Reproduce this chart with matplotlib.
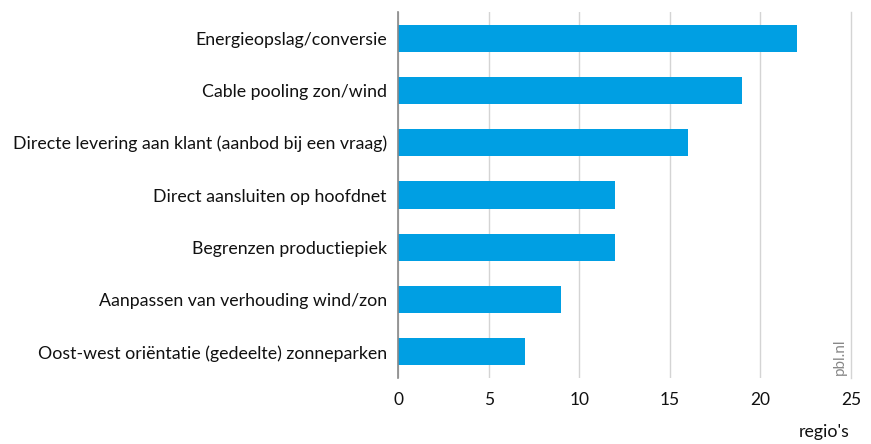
import matplotlib
matplotlib.use("Agg")
import matplotlib.pyplot as plt

categories = ["Energieopslag/conversie", "Cable pooling zon/wind",
              "Directe levering aan klant (aanbod bij een vraag)",
              "Direct aansluiten op hoofdnet", "Begrenzen productiepiek",
              "Aanpassen van verhouding wind/zon",
              "Oost-west oriëntatie (gedeelte) zonneparken"]
values = [22, 19, 16, 12, 12, 9, 7]
xticks = [0, 5, 10, 15, 20, 25]

plt.rcParams['font.family'] = ['Lato', 'DejaVu Sans']
fig = plt.figure(figsize=(8.71, 4.44), dpi=100)
ax = fig.add_axes([398/871, 1-378/444, (851-398)/871, (378-12)/444])

pos = list(range(len(categories)))[::-1]
ax.barh(pos, values, height=0.52, color="#009FE3", zorder=3)
ax.set_ylim(-0.5, len(categories)-0.5)
ax.set_xlim(0, 25)
ax.set_yticks(pos)
ax.set_yticklabels(categories, fontsize=12.8, color="#111111")
ax.set_xticks(xticks)
ax.set_xticklabels([str(t) for t in xticks], fontsize=12.5, color="#111111")
ax.tick_params(axis='y', length=0, pad=8)
ax.tick_params(axis='x', length=0, pad=10)
ax.grid(axis='x', color="#d4d4d4", linewidth=1, zorder=0)
ax.xaxis.get_gridlines()[-1].set_clip_on(False)
for s in ['top', 'right', 'bottom']:
    ax.spines[s].set_visible(False)
ax.spines['left'].set_color("#888888")
ax.spines['left'].set_linewidth(1.2)
ax.spines['left'].set_zorder(4)

fig.text(850/871, 1-432/444, "regio's", ha='right', va='center', fontsize=12.8, color="#111111")
fig.text(840/871, 1-357/444, "pbl.nl", rotation=90, ha='center', va='center', fontsize=11, color="#888888")

fig.savefig("out.png", dpi=100)
